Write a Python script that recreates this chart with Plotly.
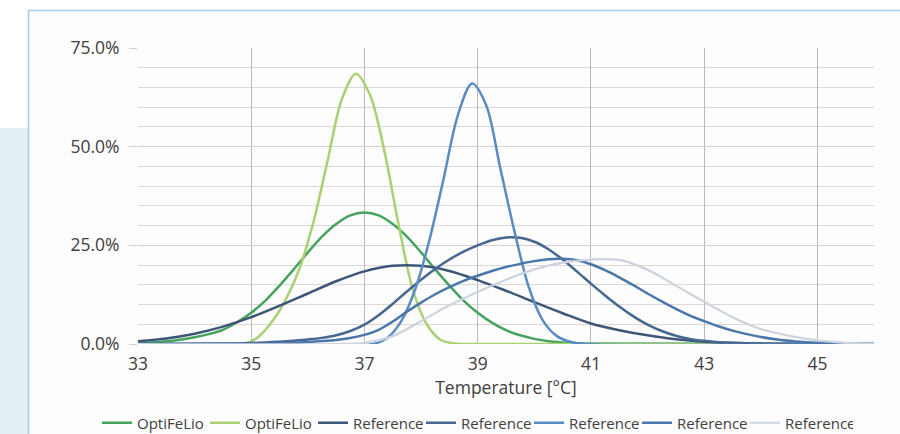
import plotly.graph_objects as go

# Temperature distributions (share of readings, %) for each device
opti1_t = [33, 33.25, 33.5, 33.75, 34, 34.25, 34.5, 34.75, 35, 35.25, 35.5, 35.75, 36, 36.25, 36.5, 36.75,
           37, 37.25, 37.5, 37.75, 38, 38.25, 38.5, 38.75, 39, 39.25, 39.5, 39.75, 40, 40.25, 40.5, 40.75,
           41, 46]
opti1_v = [0.3, 0.4, 0.7, 1.1, 1.7, 2.5, 3.6, 5.5, 7.9, 11.0, 14.8, 18.9, 23.2, 27.2, 30.4, 32.6,
           33.3, 32.6, 30.4, 27.2, 23.2, 18.9, 14.8, 11.0, 7.9, 5.4, 3.5, 2.2, 1.3, 0.7, 0.4, 0.2,
           0.1, 0]

opti2_t = [33, 34.85, 35.1, 35.35, 35.6, 35.85, 36.1, 36.35, 36.6, 36.85, 37.1, 37.35, 37.6, 37.85,
           38.1, 38.35, 38.6, 38.85, 46]
opti2_v = [0, 0, 1.5, 5.3, 11.0, 19.0, 31.0, 46.5, 62.0, 68.5, 63.0, 49.0, 30.5, 14.0,
           5.0, 1.0, 0.1, 0, 0]

ref1_t = [33, 33.5, 34, 34.5, 35, 35.5, 36, 36.5, 37, 37.5, 38, 38.5, 39, 39.5, 40, 40.5, 41, 41.5, 42,
          42.5, 43, 43.5, 44, 44.5, 45, 45.5, 46]
ref1_v = [0.7, 1.4, 2.6, 4.4, 6.8, 9.7, 12.8, 15.9, 18.4, 19.8, 19.8, 18.5, 16.2, 13.5, 10.6, 7.8, 5.2,
          3.5, 2.2, 1.2, 0.6, 0.3, 0.1, 0.05, 0.02, 0.01, 0]

ref2_t = [33, 34.5, 34.75, 35, 35.25, 35.5, 35.75, 36, 36.25, 36.5, 36.75, 37, 37.25, 37.5, 37.75, 38,
          38.25, 38.5, 38.75, 39, 39.25, 39.5, 39.75, 40, 40.25, 40.5, 40.75, 41, 41.25, 41.5, 41.75,
          42, 42.25, 42.5, 42.75, 43, 43.25, 43.5, 43.75, 44, 44.25, 44.5, 46]
ref2_v = [0, 0.1, 0.15, 0.25, 0.4, 0.6, 0.85, 1.15, 1.55, 2.2, 3.3, 4.9, 7.3, 10.2, 13.3, 16.3,
          19.0, 21.4, 23.4, 25.0, 26.3, 27.0, 26.9, 25.9, 24.0, 21.4, 18.4, 15.3, 12.3, 9.5, 7.0,
          4.9, 3.3, 2.1, 1.3, 0.8, 0.45, 0.25, 0.12, 0.05, 0.02, 0, 0]

ref3_t = [33, 37.15, 37.4, 37.65, 37.9, 38.15, 38.4, 38.65, 38.9, 39.15, 39.4, 39.65, 39.9, 40.15,
          40.4, 40.65, 40.9, 46]
ref3_v = [0, 0, 1.5, 5.8, 14.0, 26.5, 42.0, 58.0, 66.0, 60.5, 44.5, 28.5, 14.5, 6.0,
          2.0, 0.5, 0, 0]

ref4_t = [33, 35, 35.25, 35.5, 35.75, 36, 36.25, 36.5, 36.75, 37, 37.25, 37.5, 37.75, 38, 38.25, 38.5,
          38.75, 39, 39.25, 39.5, 39.75, 40, 40.25, 40.5, 40.75, 41, 41.25, 41.5, 41.75, 42, 42.25,
          42.5, 42.75, 43, 43.25, 43.5, 43.75, 44, 44.25, 44.5, 44.75, 45, 45.25, 45.5, 45.75, 46]
ref4_v = [0, 0.05, 0.1, 0.2, 0.3, 0.5, 0.75, 1.0, 1.5, 2.3, 3.6, 5.7, 8.2, 10.5, 12.6, 14.4,
          16.0, 17.3, 18.5, 19.5, 20.3, 21.0, 21.5, 21.6, 21.2, 20.2, 18.7, 16.9, 14.9, 12.8, 10.8,
          8.9, 7.2, 5.8, 4.5, 3.4, 2.5, 1.8, 1.2, 0.8, 0.5, 0.3, 0.2, 0.1, 0.05, 0]

ref5_t = [33, 36.5, 37, 37.5, 38, 38.5, 39, 39.5, 40, 40.5, 41, 41.5, 42, 42.5, 43, 43.5, 44, 44.5, 45,
          45.5, 46]
ref5_v = [0, 0, 0.3, 2.0, 5.8, 9.8, 13.2, 16.3, 18.9, 20.6, 21.4, 21.3, 18.8, 14.8, 10.7, 6.8, 3.8, 2.1,
          0.9, 0.3, 0.1]

series = [
    ("OptiFeLio", opti1_t, opti1_v, "#45a35f", 2.5),
    ("OptiFeLio", opti2_t, opti2_v, "#a9d172", 2.5),
    ("Reference", ref1_t, ref1_v, "#3d5678", 2.5),
    ("Reference", ref2_t, ref2_v, "#46678f", 2.5),
    ("Reference", ref3_t, ref3_v, "#5a8cc4", 2.5),
    ("Reference", ref4_t, ref4_v, "#4a77ab", 2.5),
    ("Reference", ref5_t, ref5_v, "#cbd3de", 2.2),
]

fig = go.Figure()
for name, t, v, color, width in series:
    fig.add_trace(go.Scatter(
        x=t, y=v, name=name, mode="lines",
        line=dict(color=color, width=width, shape="spline", smoothing=0.9),
    ))

# page decoration: side panel and framed card (paper coordinates)
W, H, L, B = 736.0, 296.0, 138.0, 90.0
def px(xp):
    return (xp - L) / W
def py(yp):
    return (434 - B - yp) / H

fig.add_shape(type="rect", xref="paper", yref="paper", layer="below",
              x0=px(-2), x1=px(28), y0=py(440), y1=py(128),
              fillcolor="#e4eef5", line=dict(width=0))
fig.add_shape(type="rect", xref="paper", yref="paper", layer="below",
              x0=px(28.5), x1=px(910), y0=py(445), y1=py(10.5),
              fillcolor="#fdfdfd", line=dict(color="#a6cbe3", width=1.5))

text_color = "#404040"
fig.update_layout(
    width=900, height=434,
    margin=dict(l=L, r=26, t=48, b=B, autoexpand=False),
    paper_bgcolor="#ffffff",
    plot_bgcolor="rgba(0,0,0,0)",
    font=dict(family="Open Sans", size=17, color=text_color),
    showlegend=True,
    legend=dict(orientation="h", x=px(97), xanchor="left", y=py(423), yanchor="middle",
                font=dict(size=15, color=text_color), bgcolor="rgba(0,0,0,0)",
                itemwidth=30, tracegroupgap=0, entrywidth=63, entrywidthmode="pixels"),
    xaxis=dict(
        range=[33, 46], tick0=33, dtick=2, showgrid=True, gridcolor="#bfb8b6", gridwidth=1,
        zeroline=False, showline=False, ticks="", ticklabelstandoff=7,
        tickfont=dict(size=17.5, color=text_color),
        title=dict(text="Temperature [°C]", font=dict(size=17.5, color=text_color), standoff=3),
    ),
    yaxis=dict(
        range=[0, 75], tick0=0, dtick=25, tickformat=".1f", ticksuffix="%",
        showgrid=True, gridcolor="#d8d0cf", gridwidth=1, zeroline=False, showline=False,
        ticks="outside", ticklen=8, tickcolor="#d8d0cf", ticklabelstandoff=6,
        tickfont=dict(size=17.5, color=text_color),
        minor=dict(dtick=5, showgrid=True, gridcolor="#ded7d6", gridwidth=1),
    ),
)

fig.write_html("out.html")
